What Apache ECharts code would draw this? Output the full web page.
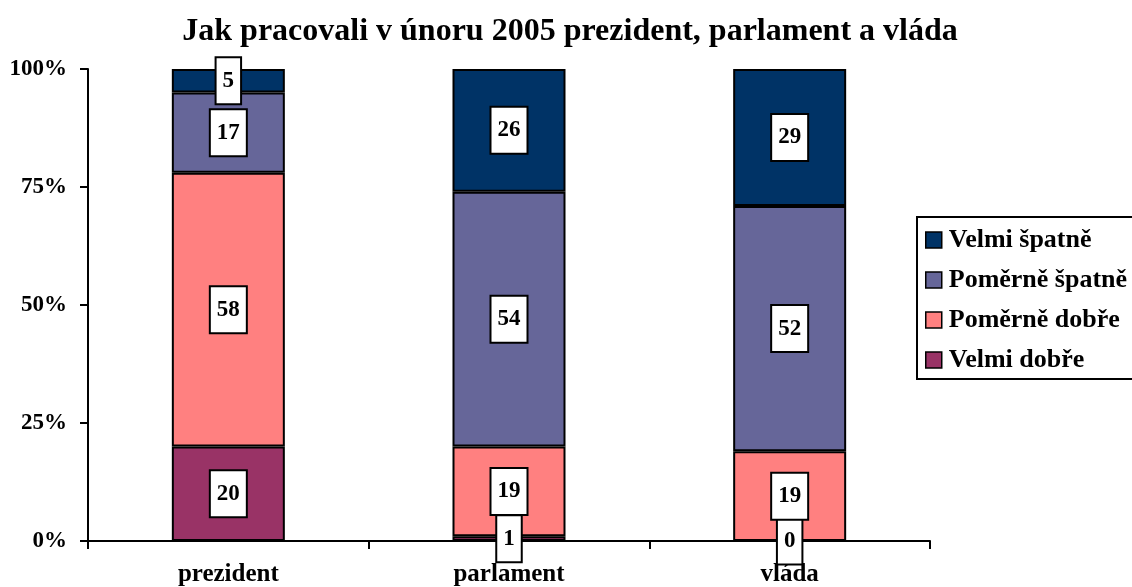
<!DOCTYPE html>
<html>
<head>
<meta charset="utf-8">
<title>Jak pracovali v únoru 2005</title>
<script src="https://cdn.jsdelivr.net/npm/echarts@6/dist/echarts.min.js"></script>
<style>
  html, body {
    margin: 0;
    padding: 0;
    background: #fff;
  }
  #chart {
    width: 1132px;
    height: 587px;
  }
</style>
</head>
<body>
<div id="chart"></div>
<script>
var categories = ['prezident', 'parlament', 'vláda']
var velmiDobre = [20, 1, 0]
var pomerneDobre = [58, 19, 19]
var pomerneSpatne = [17, 54, 52]
var velmiSpatne = [5, 26, 29]
var yTicks = [0, 25, 50, 75, 100]

var font = "'Liberation Serif', 'Times New Roman', serif"

function makeSeries(name, data, color) {
  return {
    name: name,
    type: 'bar',
    stack: 'total',
    barWidth: 113,
    data: data,
    itemStyle: {
      color: color,
      borderColor: '#000',
      borderWidth: 2
    },
    label: {
      show: true,
      position: 'inside',
      formatter: '{c}',
      color: '#000',
      fontFamily: font,
      fontWeight: 'bold',
      fontSize: 23,
      backgroundColor: '#fff',
      borderColor: '#000',
      borderWidth: 2,
      padding: [12, 6, 10, 6]
    },
    emphasis: { disabled: true }
  }
}

var myChart = echarts.init(document.getElementById('chart'))
var option = {
  animation: false,
  title: {
    text: 'Jak pracovali v únoru 2005 prezident, parlament a vláda',
    left: 565,
    textAlign: 'center',
    top: 11,
    textStyle: {
      fontFamily: font,
      fontWeight: 'bold',
      fontSize: 32,
      color: '#000'
    }
  },
  legend: {
    orient: 'vertical',
    left: 917,
    top: 217,
    padding: [10, 40, 6, 8],
    borderColor: '#000',
    borderWidth: 2,
    icon: 'rect',
    itemWidth: 16,
    itemHeight: 16,
    itemGap: 14,
    selectedMode: false,
    data: ['Velmi špatně', 'Poměrně špatně', 'Poměrně dobře', 'Velmi dobře'],
    itemStyle: {
      borderColor: '#000',
      borderWidth: 1.5
    },
    textStyle: {
      fontFamily: font,
      fontWeight: 'bold',
      fontSize: 26,
      color: '#000',
      padding: [0, 0, 0, 2]
    }
  },
  grid: {
    left: 88,
    right: 202,
    top: 69,
    bottom: 46
  },
  xAxis: {
    type: 'category',
    data: categories,
    axisLine: { lineStyle: { color: '#000', width: 2 } },
    axisTick: {
      show: true,
      inside: false,
      length: 8,
      lineStyle: { color: '#000', width: 2 }
    },
    axisLabel: {
      margin: 21,
      color: '#000',
      fontFamily: font,
      fontWeight: 'bold',
      fontSize: 25
    }
  },
  yAxis: {
    type: 'value',
    min: yTicks[0],
    max: yTicks[yTicks.length - 1],
    interval: 25,
    splitLine: { show: false },
    axisLine: { show: true, lineStyle: { color: '#000', width: 2 } },
    axisTick: {
      show: true,
      length: 8,
      lineStyle: { color: '#000', width: 2 }
    },
    axisLabel: {
      margin: 21,
      color: '#000',
      fontFamily: font,
      fontWeight: 'bold',
      fontSize: 23,
      formatter: '{value}%'
    }
  },
  series: [
    makeSeries('Velmi dobře', velmiDobre, '#993366'),
    makeSeries('Poměrně dobře', pomerneDobre, '#FF8080'),
    makeSeries('Poměrně špatně', pomerneSpatne, '#666699'),
    makeSeries('Velmi špatně', velmiSpatne, '#003366')
  ]
}
myChart.setOption(option)
</script>
</body>
</html>
